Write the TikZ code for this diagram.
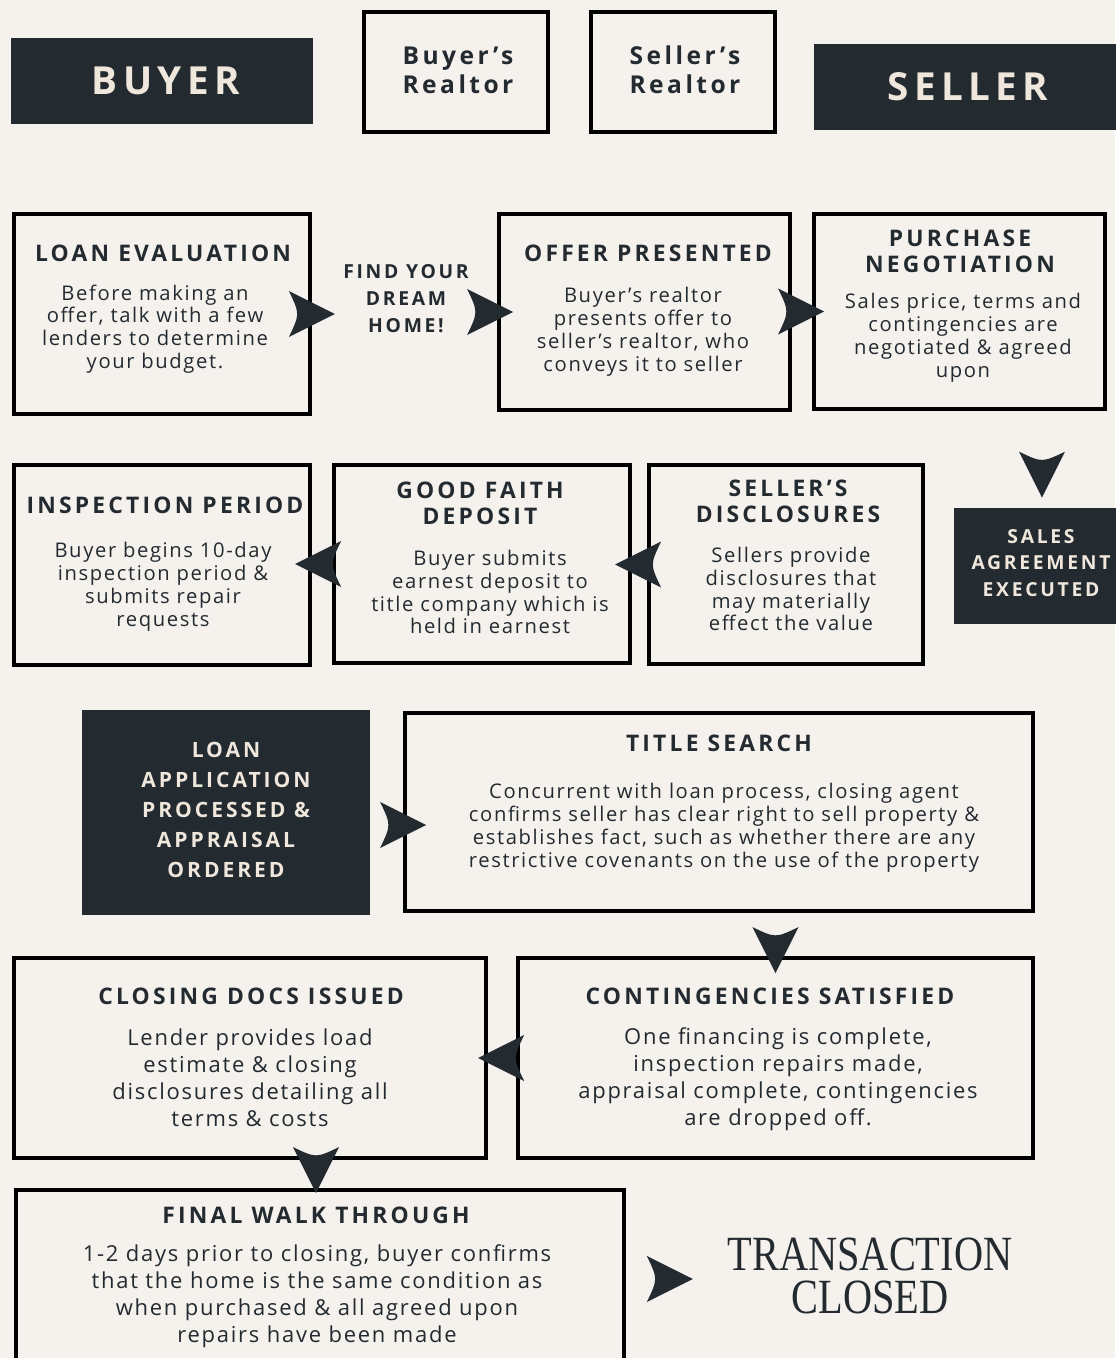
\documentclass[tikz,border=0pt]{standalone}
\usepackage{fontspec}
\setmainfont{Open Sans}
\newfontfamily\headfont[LetterSpace=14]{Open Sans}
\newfontfamily\bodyfont[LetterSpace=8]{Open Sans}
\newfontfamily\closefont[FakeStretch=0.82]{Liberation Serif}
\usetikzlibrary{positioning}
\definecolor{paper}{HTML}{F5F2ED}
\definecolor{ink}{HTML}{232A30}
\definecolor{cream}{HTML}{EFE6DC}
\tikzset{
  stepbox/.style={draw=black, line width=2.2pt, rectangle, inner sep=0pt},
  darkbox/.style={fill=ink, rectangle, inner sep=0pt},
  headtxt/.style={text=ink, align=center, inner sep=0pt, font=\headfont\bfseries\fontsize{13}{14.7}\selectfont},
  bodytxt/.style={text=ink, align=center, inner sep=0pt, font=\bodyfont\fontsize{11.5}{13}\selectfont},
  bigbody/.style={text=ink, align=center, inner sep=0pt, font=\bodyfont\fontsize{12.5}{15.3}\selectfont},
  chev/.pic={\fill[ink] (23,0) -- (-23,-23) .. controls (-12,0) .. (-23,23) -- cycle;}
}
\begin{document}
\begin{tikzpicture}[x=0.02cm, y=-0.02cm]
\fill[paper] (0,0) rectangle (1115,1358);
\useasboundingbox (0,0) rectangle (1115,1358);
% header
\node[darkbox, minimum width=6.04cm, minimum height=1.72cm] (buyer) at (162,81) {};
\node[text=cream, inner sep=0pt, font=\headfont\bfseries\fontsize{22}{24}\selectfont] (buyertxt) at (166,81) {BUYER};
\node[stepbox, minimum width=3.68cm, minimum height=2.4cm] (brealtor) at (456,72) {};
\node[headtxt, font=\headfont\bfseries\fontsize{14}{16.4}\selectfont] (brealtortxt) at (458,70) {Buyer’s\\Realtor};
\node[stepbox, minimum width=3.68cm, minimum height=2.4cm] (srealtor) at (683,72) {};
\node[headtxt, font=\headfont\bfseries\fontsize{14}{16.4}\selectfont] (srealtortxt) at (685,70) {Seller’s\\Realtor};
\node[darkbox, minimum width=6.22cm, minimum height=1.72cm] (seller) at (969.5,87) {};
\node[text=cream, inner sep=0pt, font=\headfont\bfseries\fontsize{22}{24}\selectfont] (sellertxt) at (968,87) {SELLER};
% row 1
\node[stepbox, minimum width=5.92cm, minimum height=4cm] (loaneval) at (162,314) {};
\node[headtxt] (loanevalhd) at (163,253) {LOAN EVALUATION};
\node[bodytxt] (loanevalbd) at (155,329) {Before making an\\offer, talk with a few\\lenders to determine\\your budget.};
\node[headtxt, font=\headfont\bfseries\fontsize{11}{15.3}\selectfont] (findhome) at (406,299) {FIND YOUR\\DREAM\\HOME!};
\node[stepbox, minimum width=5.82cm, minimum height=3.92cm] (offer) at (644.5,312) {};
\node[headtxt] (offerhd) at (648,253) {OFFER PRESENTED};
\node[bodytxt] (offerbd) at (643,332) {Buyer’s realtor\\presents offer to\\seller’s realtor, who\\conveys it to seller};
\node[stepbox, minimum width=5.82cm, minimum height=3.9cm] (purchase) at (959.5,311.5) {};
\node[headtxt] (purchasehd) at (960,251) {PURCHASE\\NEGOTIATION};
\node[bodytxt] (purchasebd) at (963,338) {Sales price, terms and\\contingencies are\\negotiated \& agreed\\upon};
\node[darkbox, minimum width=3.32cm, minimum height=2.32cm] (sales) at (1037,566) {};
\node[headtxt, text=cream, font=\headfont\bfseries\fontsize{11}{15.3}\selectfont] (salestxt) at (1041,563) {SALES\\AGREEMENT\\EXECUTED};
\pic at (loaneval.east) {chev};
\pic at ([xshift=-0.14cm]offer.west) {chev};
\pic at ([xshift=-0.22cm]purchase.west) {chev};
\pic[rotate=-90] at ([xshift=0.1cm, yshift=0.66cm]sales.north) {chev};
% row 2
\node[stepbox, minimum width=5.92cm, minimum height=4cm] (inspect) at (162,565) {};
\node[headtxt] (inspecthd) at (165,505) {INSPECTION PERIOD};
\node[bodytxt] (inspectbd) at (163,587) {Buyer begins 10-day\\inspection period \&\\submits repair\\requests};
\node[stepbox, minimum width=5.92cm, minimum height=3.96cm] (deposit) at (482,564) {};
\node[headtxt] (deposithd) at (480,503) {GOOD FAITH\\DEPOSIT};
\node[bodytxt] (depositbd) at (490,592) {Buyer submits\\earnest deposit to\\title company which is\\held in earnest};
\node[stepbox, minimum width=5.48cm, minimum height=3.98cm] (disclose) at (786,564.5) {};
\node[headtxt] (disclosehd) at (788,501) {SELLER’S\\DISCLOSURES};
\node[bodytxt] (disclosebd) at (791,589) {Sellers provide\\disclosures that\\may materially\\effect the value};
\pic[rotate=180] at ([xshift=-0.28cm]deposit.west) {chev};
\pic[rotate=180] at ([xshift=-0.18cm]disclose.west) {chev};
% row 3
\node[darkbox, minimum width=5.76cm, minimum height=4.1cm] (loanapp) at (226,812.5) {};
\node[headtxt, text=cream, font=\headfont\bfseries\fontsize{12}{17}\selectfont] (loanapptxt) at (226,810) {LOAN\\APPLICATION\\PROCESSED \&\\APPRAISAL\\ORDERED};
\node[stepbox, minimum width=12.56cm, minimum height=3.96cm] (title) at (719,812) {};
\node[headtxt] (titlehd) at (719,743) {TITLE SEARCH};
\node[bodytxt] (titlebd) at (724,828) {Concurrent with loan process, closing agent\\confirms seller has clear right to sell property \&\\establishes fact, such as whether there are any\\restrictive covenants on the use of the property};
\pic at ([yshift=-0.26cm]title.west) {chev};
% row 4
\node[stepbox, minimum width=9.44cm, minimum height=4cm] (closing) at (250,1058) {};
\node[headtxt] (closinghd) at (251,996) {CLOSING DOCS ISSUED};
\node[bigbody] (closingbd) at (250,1078) {Lender provides load\\estimate \& closing\\disclosures detailing all\\terms \& costs};
\node[stepbox, minimum width=10.3cm, minimum height=4cm] (conting) at (775.5,1058) {};
\node[headtxt] (continghd) at (770,996) {CONTINGENCIES SATISFIED};
\node[bigbody] (contingbd) at (778,1079) {One financing is complete,\\inspection repairs made,\\appraisal complete, contingencies\\are dropped off.};
\pic[rotate=-90] at ([yshift=0.12cm]conting.north) {chev};
\pic[rotate=180] at ([xshift=-0.3cm]conting.west) {chev};
% row 5
\node[stepbox, minimum width=12.16cm, minimum height=3.56cm] (walk) at (320,1279) {};
\node[headtxt] (walkhd) at (316,1215) {FINAL WALK THROUGH};
\node[bigbody] (walkbd) at (317,1296) {1-2 days prior to closing, buyer confirms\\that the home is the same condition as\\when purchased \& all agreed upon\\repairs have been made};
\pic[rotate=-90] at ([xshift=-0.08cm, yshift=0.36cm]walk.north) {chev};
\node[text=ink, align=center, inner sep=0pt, font=\closefont\fontsize{28}{24}\selectfont] (closed) at (870,1276) {TRANSACTION\\CLOSED};
\pic at ([xshift=0.88cm]walk.east) {chev};
\end{tikzpicture}
\end{document}
